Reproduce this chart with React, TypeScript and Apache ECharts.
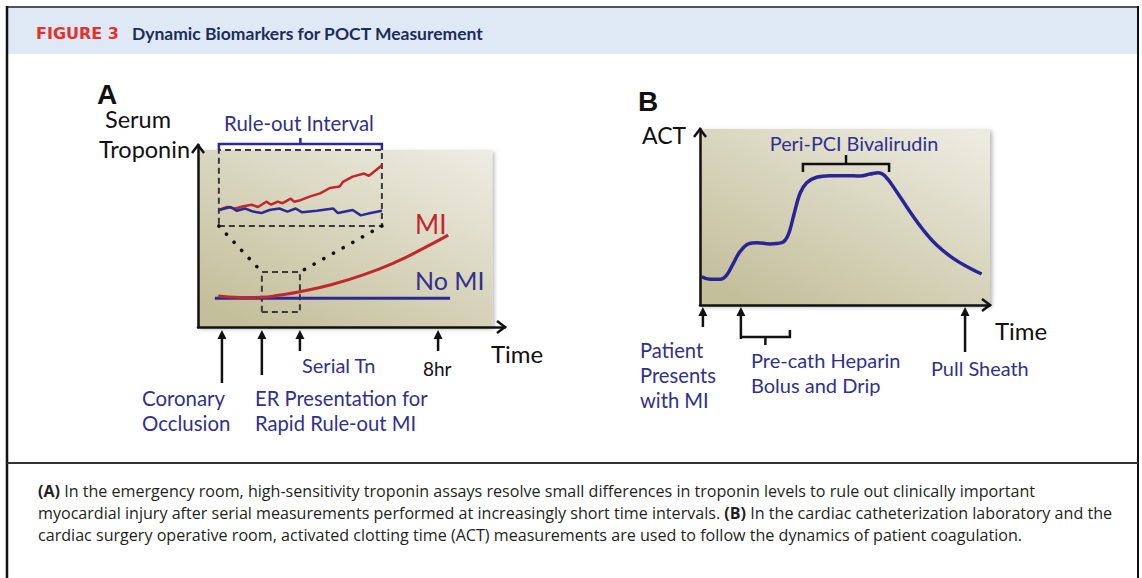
import React, { useEffect, useRef } from "react";
import * as echarts from "echarts";

// ---------- Panel A: serum troponin over time (arbitrary units) ----------
const miTime = [6.6, 13.7, 20.7, 26.7, 33.2, 43.0, 53.8, 64.7, 73.4, 81.5];
const miLevel = [17.0, 16.2, 16.3, 17.6, 19.4, 23.1, 28.6, 35.9, 43.2, 50.5];
const noMiTime = [5.5, 82.1];
const noMiLevel = [15.8, 15.8];

// magnified rule-out interval (inset)
const insetMiTime = [0, 5, 10, 15, 20, 24, 29, 32, 36, 39, 44, 46, 50, 56, 62, 68, 74, 76, 82, 89, 92, 100];
const insetMiLevel = [21, 25, 23, 26, 28, 25, 32, 28, 32, 30, 36, 32, 34, 39, 43, 50, 52, 58, 65, 69, 66, 80];
const insetNoMiTime = [0, 7, 11, 16, 21, 26, 31, 37, 42, 47, 51, 60, 70, 73, 82, 87, 93, 100];
const insetNoMiLevel = [21, 25, 20, 23, 19, 17, 21, 23, 19, 23, 18, 20, 23, 17, 21, 14, 17, 20];

// zoom window on main plot and inset frame (axis units)
const windowTime = [20.8, 33.2];
const windowLevel = [8.2, 30.2];
const insetFrameTime = [6.8, 59.9];
const insetFrameLevel = [55.5, 97.3];

// events on the time axis of panel A
const eventATimes = [7.8, 20.8, 33.2, 78.2];

// ---------- Panel B: ACT over time ----------
const actTime = [0.6, 3.4, 6.9, 9.2, 11.5, 13.8, 16.7, 19.6, 24.1, 28.2, 30.4, 32.2, 34.5, 36.8, 40.2, 44.8, 50.6, 55.2, 58.6, 61.5, 63.8, 67.8, 72.4, 77.0, 81.6, 87.3, 93.1, 97.1];
const actLevel = [16.1, 14.6, 14.6, 17.0, 23.7, 30.3, 34.7, 35.4, 34.7, 35.4, 39.8, 50.2, 63.5, 69.5, 72.6, 73.5, 73.5, 73.3, 74.4, 75.2, 73.3, 64.4, 53.0, 42.6, 34.1, 26.5, 20.9, 17.6];
const eventBTimes = [1.0, 14.1, 91.4];
const bivalirudinRange = [35.5, 65.2];
const bivalirudinLevel = 80.1;
const heparinRange = [14.1, 31.0];

const zip = (xs: number[], ys: number[]) => xs.map((x, i) => [x, ys[i]]);

export default function App() {
  const ref = useRef<HTMLDivElement>(null);
  useEffect(() => {
    document.body.style.margin = "0";
    const chart = echarts.init(ref.current!, null, { renderer: "svg" });
    const BLUE = "#2b2a95";
    const RED = "#c1272d";
    const TXTBLUE = "#30308f";
    const FONT = "Lato";

    const axisCommon = {
      type: "value",
      min: 0,
      max: 100,
      z: 10,
      axisLine: { show: true, onZero: false, lineStyle: { color: "#111", width: 2.5 } },
      axisTick: { show: false },
      axisLabel: { show: false },
      splitLine: { show: false },
    };
    const grad = () =>
      new echarts.graphic.LinearGradient(1, 0, 0.2, 1, [
        { offset: 0, color: "#eeede3" },
        { offset: 1, color: "#c4bf9b" },
      ]);
    const bgStyle = () => ({
      color: grad(),
      shadowBlur: 4,
      shadowColor: "rgba(0,0,0,0.3)",
      shadowOffsetX: 2,
      shadowOffsetY: 2,
    });

    const option: any = {
      animation: false,
      grid: [
        { left: 198, top: 145, width: 307, height: 182 },
        { left: 219, top: 150, width: 163, height: 76 },
        { left: 700, top: 129, width: 290, height: 176 },
      ],
      xAxis: [
        { ...axisCommon, gridIndex: 0 },
        { ...axisCommon, gridIndex: 1, show: false },
        { ...axisCommon, gridIndex: 2 },
      ],
      yAxis: [
        { ...axisCommon, gridIndex: 0 },
        { ...axisCommon, gridIndex: 1, show: false },
        { ...axisCommon, gridIndex: 2 },
      ],
      series: [
        {
          type: "line",
          xAxisIndex: 0,
          yAxisIndex: 0,
          z: 0,
          data: [[0, 0]],
          symbol: "none",
          lineStyle: { opacity: 0 },
          silent: true,
          markArea: {
            silent: true,
            itemStyle: bgStyle(),
            data: [[{ coord: [0, 0] }, { coord: [95.8, 97.3] }]],
          },
        },
        {
          name: "No MI",
          type: "line",
          xAxisIndex: 0,
          yAxisIndex: 0,
          z: 3,
          data: zip(noMiTime, noMiLevel),
          symbol: "none",
          lineStyle: { color: BLUE, width: 3 },
        },
        {
          name: "MI",
          type: "line",
          xAxisIndex: 0,
          yAxisIndex: 0,
          z: 4,
          smooth: true,
          data: zip(miTime, miLevel),
          symbol: "none",
          lineStyle: { color: RED, width: 3 },
        },
        {
          type: "line",
          xAxisIndex: 0,
          yAxisIndex: 0,
          z: 5,
          data: [[0, 0]],
          symbol: "none",
          lineStyle: { opacity: 0 },
          silent: true,
          markArea: {
            silent: true,
            itemStyle: { color: "rgba(0,0,0,0)", borderColor: "#3a3a3a", borderWidth: 2, borderType: [6, 4] },
            data: [
              [{ coord: [windowTime[0], windowLevel[0]] }, { coord: [windowTime[1], windowLevel[1]] }],
              [{ coord: [insetFrameTime[0], insetFrameLevel[0]] }, { coord: [insetFrameTime[1], insetFrameLevel[1]] }],
            ],
          },
          markLine: {
            silent: true,
            symbol: ["none", "none"],
            label: { show: false },
            lineStyle: { color: "#111", width: 3.6, type: [0.1, 11], cap: "round" },
            data: [
              [{ coord: [insetFrameTime[0], insetFrameLevel[0]] }, { coord: [windowTime[0], windowLevel[1]] }],
              [{ coord: [insetFrameTime[1], insetFrameLevel[0]] }, { coord: [windowTime[1], windowLevel[1]] }],
            ],
          },
        },
        {
          name: "MI (rule-out interval)",
          type: "line",
          xAxisIndex: 1,
          yAxisIndex: 1,
          z: 6,
          data: zip(insetMiTime, insetMiLevel),
          symbol: "none",
          lineStyle: { color: RED, width: 2.5 },
        },
        {
          name: "No MI (rule-out interval)",
          type: "line",
          xAxisIndex: 1,
          yAxisIndex: 1,
          z: 6,
          data: zip(insetNoMiTime, insetNoMiLevel),
          symbol: "none",
          lineStyle: { color: BLUE, width: 2.5 },
        },
        {
          type: "line",
          xAxisIndex: 2,
          yAxisIndex: 2,
          z: 0,
          data: [[0, 0]],
          symbol: "none",
          lineStyle: { opacity: 0 },
          silent: true,
          markArea: {
            silent: true,
            itemStyle: bgStyle(),
            data: [[{ coord: [0, 0] }, { coord: [100, 100] }]],
          },
        },
        {
          name: "ACT",
          type: "line",
          xAxisIndex: 2,
          yAxisIndex: 2,
          z: 4,
          smooth: 0.4,
          data: zip(actTime, actLevel),
          symbol: "none",
          lineStyle: { color: "#2a2596", width: 3.5 },
        },
      ],
    };
    chart.setOption(option);

    const P = (g: number, x: number, y: number) => chart.convertToPixel({ gridIndex: g } as any, [x, y]) as number[];
    const g: any[] = [];
    const txt = (text: string, x: number, y: number, size: number, fill: string, opts: any = {}) =>
      g.push({
        type: "text",
        x,
        y,
        z: 20,
        style: {
          text,
          fill,
          font: `${opts.weight || "normal"} ${size}px ${opts.family || FONT}`,
          textAlign: opts.align || "left",
          textVerticalAlign: "middle",
        },
      });
    const pl = (points: number[][], stroke: string, width = 2.5) =>
      g.push({ type: "polyline", z: 20, shape: { points }, style: { stroke, lineWidth: width, fill: "none", lineJoin: "miter" } });
    const upArrow = (x: number, y: number, len: number) => {
      pl([[x, y + 6], [x, y + len]], "#111", 2.5);
      g.push({ type: "polygon", z: 20, shape: { points: [[x, y], [x - 4.5, y + 9], [x + 4.5, y + 9]] }, style: { fill: "#111" } });
    };

    // frame
    g.push({ type: "rect", z: 1, shape: { x: 8, y: 8, width: 1129, height: 46 }, style: { fill: "#dfe9f5" } });
    pl([[7, 7], [1138, 7]], "#555", 2);
    pl([[7, 6], [7, 578]], "#111", 2.5);
    pl([[1138, 6], [1138, 578]], "#111", 2);
    pl([[7, 463], [1138, 463]], "#333", 2);
    txt("FIGURE 3", 36, 33, 16, "#e4312b", { weight: "bold", family: "DejaVu Sans" });
    txt("Dynamic Biomarkers for POCT Measurement", 132, 33, 17.5, "#1c2d5a", { weight: "bold" });

    // caption
    const rich = { b: { fontWeight: "bold", fontFamily: "Open Sans", fontSize: 16.1, fill: "#231f20" } };
    const caps = [
      "{b|(A)} In the emergency room, high-sensitivity troponin assays resolve small differences in troponin levels to rule out clinically important",
      "myocardial injury after serial measurements performed at increasingly short time intervals. {b|(B)} In the cardiac catheterization laboratory and the",
      "cardiac surgery operative room, activated clotting time (ACT) measurements are used to follow the dynamics of patient coagulation.",
    ];
    caps.forEach((c, i) =>
      g.push({
        type: "text",
        x: 38,
        y: 491 + i * 22,
        z: 20,
        style: { text: c, fill: "#231f20", font: "normal 16.1px 'Open Sans'", textVerticalAlign: "middle", rich },
      })
    );

    // panel A
    const [ax0, ay0] = P(0, 0, 0);
    const [, ayTop] = P(0, 0, 100);
    const [axEnd] = P(0, 100, 0);
    pl([[ax0 - 6, ayTop + 8], [ax0, ayTop], [ax0 + 6, ayTop + 8]], "#111", 2.5);
    pl([[axEnd - 8, ay0 - 6], [axEnd, ay0], [axEnd - 8, ay0 + 6]], "#111", 2.5);
    const tailsA = [53, 45, 21, 21];
    eventATimes.forEach((t, i) => {
      const [x, y] = P(0, t, 0);
      upArrow(x, y + 3, tailsA[i]);
    });
    const [bl, bt] = P(0, insetFrameTime[0], insetFrameLevel[1]);
    const [br] = P(0, insetFrameTime[1], insetFrameLevel[1]);
    const bc = (bl + br) / 2;
    pl([[bl, bt], [bl, bt - 6], [br, bt - 6], [br, bt]], BLUE, 2.5);
    pl([[bc, bt - 6], [bc, bt - 12]], BLUE, 2.5);

    txt("A", 97, 94, 28, "#111", { weight: "bold", family: "Liberation Sans" });
    txt("Serum", 138, 119, 23.5, "#111", { align: "center" });
    txt("Troponin", 190, 149, 23.5, "#111", { align: "right" });
    txt("Rule-out Interval", 299, 123, 20.4, TXTBLUE, { align: "center" });
    txt("MI", 415, 224, 26, RED);
    txt("No MI", 415, 280, 25, TXTBLUE);
    txt("Time", 491, 353, 24, "#111");
    txt("8hr", 423, 368, 19, "#111");
    txt("Serial Tn", 302, 365, 20, TXTBLUE);
    txt("Coronary", 142, 398, 20.4, TXTBLUE);
    txt("Occlusion", 142, 423, 20.4, TXTBLUE);
    txt("ER Presentation for", 255, 398, 20.2, TXTBLUE);
    txt("Rapid Rule-out MI", 255, 423, 20.2, TXTBLUE);

    // panel B
    const [bx0, by0] = P(2, 0, 0);
    const [, byTop] = P(2, 0, 100);
    const [bxEnd] = P(2, 100, 0);
    pl([[bx0 - 6, byTop + 8], [bx0, byTop], [bx0 + 6, byTop + 8]], "#111", 2.5);
    pl([[bxEnd - 8, by0 - 6], [bxEnd, by0], [bxEnd - 8, by0 + 6]], "#111", 2.5);
    const tailsB = [20, 32, 45];
    eventBTimes.forEach((t, i) => {
      const [x, y] = P(2, t, 0);
      upArrow(x, y + 2, tailsB[i]);
    });
    const [pl0, pt] = P(2, bivalirudinRange[0], bivalirudinLevel);
    const [pr0] = P(2, bivalirudinRange[1], bivalirudinLevel);
    const pc = (pl0 + pr0) / 2;
    pl([[pl0, pt + 8], [pl0, pt], [pr0, pt], [pr0, pt + 8]], "#111", 2.5);
    pl([[pc, pt], [pc, pt - 9]], "#111", 2.5);
    const [hl, hy] = P(2, heparinRange[0], 0);
    const [hr] = P(2, heparinRange[1], 0);
    const hb = hy + 32;
    const hc = (hl + hr) / 2;
    pl([[hl, hb], [hr, hb], [hr, hb - 7]], "#111", 2.5);
    pl([[hc, hb], [hc, hb + 8]], "#111", 2.5);

    txt("B", 638, 101, 28, "#111", { weight: "bold", family: "Liberation Sans" });
    txt("ACT", 642, 135, 23, "#111");
    txt("Peri-PCI Bivalirudin", 854, 143, 19.8, TXTBLUE, { align: "center" });
    txt("Time", 995, 330, 24, "#111");
    txt("Patient", 640, 350, 20.2, TXTBLUE);
    txt("Presents", 640, 375, 20.2, TXTBLUE);
    txt("with MI", 640, 400, 20.2, TXTBLUE);
    txt("Pre-cath Heparin", 751, 360, 20, TXTBLUE);
    txt("Bolus and Drip", 751, 385, 20, TXTBLUE);
    txt("Pull Sheath", 931, 368, 19.9, TXTBLUE);

    chart.setOption({ graphic: g });
    return () => chart.dispose();
  }, []);
  return <div ref={ref} style={{ position: "fixed", left: 0, top: 0, width: 1142, height: 578, background: "#fff" }} />;
}
